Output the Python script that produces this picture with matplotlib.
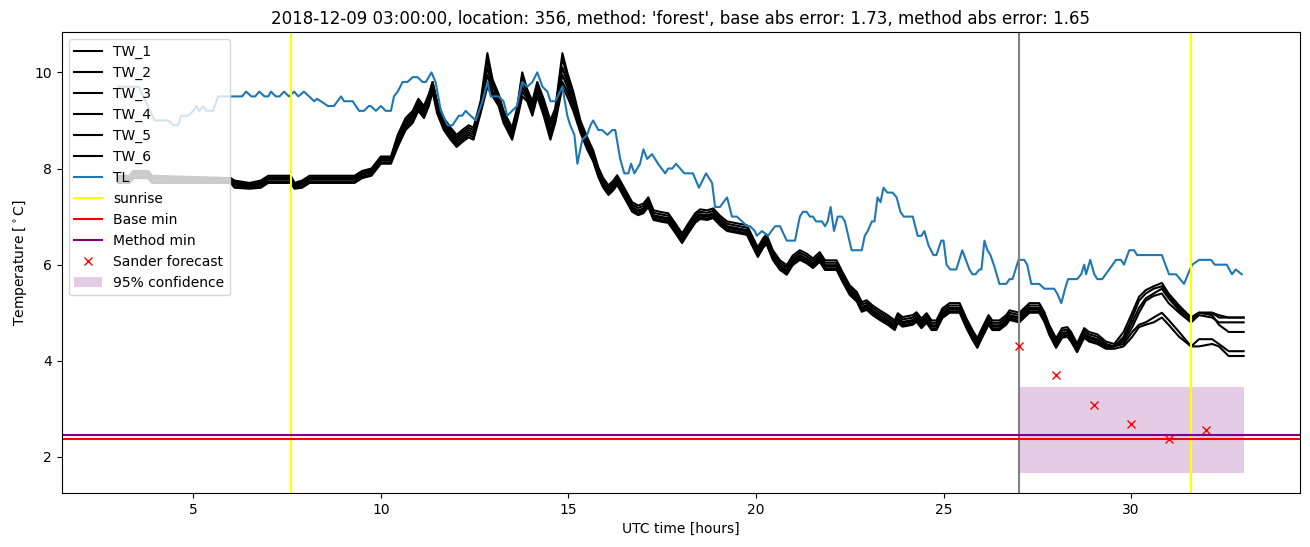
import matplotlib
matplotlib.use("Agg")
import matplotlib.pyplot as plt

# ---------------- data ----------------
tw_t = [3.0, 3.3, 3.4, 3.8, 3.9, 6.0, 6.1, 6.5, 6.8, 7.0,
        7.6, 7.7, 7.9, 8.1, 9.3, 9.5, 9.75, 9.9, 10.0, 10.27,
        10.45, 10.66, 10.85, 11.0, 11.15, 11.28, 11.38, 11.5, 11.68, 11.86,
        12.02, 12.17, 12.34, 12.47, 12.66, 12.84, 12.98, 13.14, 13.27, 13.5,
        13.63, 13.77, 13.9, 14.04, 14.17, 14.34, 14.52, 14.65, 14.84, 14.97,
        15.13, 15.32, 15.5, 15.66, 15.8, 15.93, 16.07, 16.2, 16.3, 16.38,
        16.57, 16.7, 16.86, 17.0, 17.13, 17.27, 17.5, 17.66, 17.85, 18.03,
        18.2, 18.38, 18.51, 18.7, 18.86, 19.04, 19.23, 19.49, 19.76, 19.89,
        20.05, 20.19, 20.28, 20.45, 20.64, 20.82, 20.98, 21.17, 21.35, 21.52,
        21.7, 21.84, 22.15, 22.31, 22.5, 22.69, 22.82, 22.95, 23.11, 23.3,
        23.51, 23.7, 23.78, 23.91, 24.18, 24.28, 24.41, 24.55, 24.68, 24.81,
        24.97, 25.16, 25.43, 25.61, 25.77, 25.9, 26.04, 26.2, 26.3, 26.49,
        26.67, 26.76, 27.02, 27.29, 27.55, 27.69, 27.82, 28.0, 28.16, 28.3,
        28.4, 28.56, 28.75, 28.88, 29.1, 29.33, 29.55, 29.8, 30.03, 30.21,
        30.39, 30.6, 30.82, 31.0, 31.28, 31.6, 31.81, 32.16, 32.34, 32.6,
        33.0]

tw_1 = [7.85, 7.85, 7.95, 7.95, 7.85, 7.8, 7.75, 7.7, 7.75, 7.85,
        7.85, 7.7, 7.75, 7.85, 7.85, 7.95, 8.0, 8.15, 8.25, 8.25,
        8.7, 9.05, 9.2, 9.45, 9.3, 9.55, 9.8, 9.4, 9.05, 8.85,
        8.7, 8.8, 8.9, 8.85, 9.4, 10.4, 9.85, 9.55, 9.2, 8.85,
        9.25, 10.0, 9.65, 9.4, 9.8, 9.45, 9.0, 9.25, 10.4, 10.0,
        9.6, 9.0, 8.65, 8.38, 8.02, 7.8, 7.65, 7.75, 7.86, 7.75,
        7.48, 7.3, 7.23, 7.27, 7.4, 7.13, 7.09, 7.07, 6.86, 6.65,
        6.86, 7.07, 7.15, 7.13, 7.17, 7.02, 6.9, 6.86, 6.82, 6.61,
        6.36, 6.55, 6.63, 6.3, 6.09, 5.99, 6.19, 6.3, 6.23, 6.13,
        6.26, 6.09, 6.09, 5.84, 5.57, 5.43, 5.22, 5.26, 5.15, 5.05,
        4.95, 4.84, 4.99, 4.91, 4.95, 5.01, 4.88, 4.99, 4.84, 4.84,
        5.09, 5.2, 5.2, 4.88, 4.64, 4.47, 4.7, 4.95, 4.84, 4.84,
        4.95, 5.05, 5.0, 5.2, 5.2, 5.01, 4.74, 4.47, 4.68, 4.7,
        4.6, 4.36, 4.68, 4.6, 4.55, 4.4, 4.35, 4.6, 5.0, 5.33,
        5.47, 5.55, 5.62, 5.4, 5.15, 4.9, 5.0, 5.0, 4.9, 4.9,
        4.9]

tw_2 = [7.82, 7.82, 7.92, 7.92, 7.82, 7.8, 7.72, 7.68, 7.72, 7.82,
        7.82, 7.68, 7.72, 7.82, 7.82, 7.92, 7.98, 8.12, 8.22, 8.22,
        8.65, 9.0, 9.15, 9.4, 9.25, 9.5, 9.8, 9.35, 9.0, 8.8,
        8.65, 8.75, 8.85, 8.8, 9.35, 10.25, 9.8, 9.5, 9.15, 8.8,
        9.2, 9.95, 9.6, 9.35, 9.75, 9.4, 8.95, 9.2, 10.3, 9.9,
        9.5, 8.95, 8.6, 8.33, 7.97, 7.75, 7.6, 7.7, 7.81, 7.7,
        7.43, 7.25, 7.18, 7.22, 7.35, 7.08, 7.04, 7.02, 6.81, 6.6,
        6.81, 7.02, 7.1, 7.08, 7.12, 6.97, 6.85, 6.81, 6.77, 6.56,
        6.31, 6.5, 6.58, 6.25, 6.04, 5.94, 6.14, 6.25, 6.18, 6.08,
        6.21, 6.04, 6.04, 5.79, 5.52, 5.38, 5.17, 5.21, 5.1, 5.0,
        4.9, 4.79, 4.94, 4.86, 4.9, 4.96, 4.83, 4.94, 4.79, 4.79,
        5.04, 5.15, 5.15, 4.83, 4.59, 4.42, 4.65, 4.9, 4.79, 4.79,
        4.9, 5.0, 4.95, 5.15, 5.15, 4.96, 4.69, 4.42, 4.63, 4.65,
        4.55, 4.31, 4.63, 4.55, 4.5, 4.35, 4.3, 4.5, 4.9, 5.25,
        5.4, 5.5, 5.55, 5.35, 5.1, 4.9, 5.0, 5.0, 4.95, 4.9,
        4.9]

tw_3 = [7.8, 7.8, 7.9, 7.9, 7.8, 7.78, 7.7, 7.65, 7.7, 7.8,
        7.8, 7.65, 7.7, 7.8, 7.8, 7.9, 7.95, 8.1, 8.2, 8.2,
        8.6, 8.95, 9.1, 9.35, 9.2, 9.45, 9.75, 9.3, 8.95, 8.75,
        8.6, 8.7, 8.8, 8.75, 9.3, 10.1, 9.7, 9.45, 9.1, 8.75,
        9.15, 9.85, 9.55, 9.3, 9.7, 9.3, 8.9, 9.15, 10.1, 9.8,
        9.45, 8.9, 8.55, 8.28, 7.92, 7.7, 7.55, 7.65, 7.76, 7.65,
        7.38, 7.2, 7.13, 7.17, 7.3, 7.03, 6.99, 6.97, 6.76, 6.55,
        6.76, 6.97, 7.05, 7.03, 7.07, 6.92, 6.8, 6.76, 6.72, 6.51,
        6.26, 6.45, 6.53, 6.2, 5.99, 5.89, 6.09, 6.2, 6.13, 6.03,
        6.16, 5.99, 5.99, 5.74, 5.47, 5.33, 5.12, 5.16, 5.05, 4.95,
        4.85, 4.74, 4.89, 4.81, 4.85, 4.91, 4.78, 4.89, 4.74, 4.74,
        4.99, 5.1, 5.1, 4.78, 4.54, 4.37, 4.6, 4.85, 4.74, 4.74,
        4.85, 4.95, 4.9, 5.1, 5.1, 4.91, 4.64, 4.37, 4.58, 4.6,
        4.5, 4.26, 4.58, 4.5, 4.45, 4.3, 4.3, 4.45, 4.8, 5.1,
        5.3, 5.4, 5.5, 5.3, 5.05, 4.85, 5.0, 4.95, 4.75, 4.6,
        4.6]

tw_4 = [7.77, 7.77, 7.87, 7.87, 7.77, 7.75, 7.67, 7.62, 7.67, 7.77,
        7.77, 7.62, 7.67, 7.77, 7.77, 7.87, 7.92, 8.07, 8.17, 8.17,
        8.55, 8.9, 9.05, 9.3, 9.15, 9.4, 9.7, 9.25, 8.9, 8.7,
        8.55, 8.65, 8.75, 8.7, 9.25, 9.95, 9.6, 9.4, 9.05, 8.7,
        9.1, 9.7, 9.5, 9.2, 9.6, 9.25, 8.8, 9.05, 9.95, 9.7,
        9.35, 8.85, 8.5, 8.25, 7.89, 7.67, 7.52, 7.62, 7.73, 7.62,
        7.35, 7.17, 7.1, 7.14, 7.27, 7.0, 6.96, 6.94, 6.73, 6.52,
        6.73, 6.94, 7.02, 7.0, 7.04, 6.89, 6.77, 6.73, 6.69, 6.48,
        6.23, 6.42, 6.5, 6.17, 5.96, 5.86, 6.06, 6.17, 6.1, 6.0,
        6.13, 5.96, 5.96, 5.71, 5.44, 5.3, 5.09, 5.13, 5.02, 4.92,
        4.82, 4.71, 4.86, 4.78, 4.82, 4.88, 4.75, 4.86, 4.71, 4.71,
        4.96, 5.07, 5.07, 4.75, 4.51, 4.34, 4.57, 4.82, 4.71, 4.71,
        4.82, 4.92, 4.87, 5.07, 5.07, 4.88, 4.61, 4.34, 4.55, 4.57,
        4.47, 4.23, 4.55, 4.47, 4.42, 4.3, 4.3, 4.4, 4.7, 5.0,
        5.25, 5.35, 5.4, 5.2, 5.0, 4.8, 4.95, 4.9, 4.8, 4.8,
        4.8]

tw_5 = [7.73, 7.73, 7.83, 7.83, 7.73, 7.72, 7.63, 7.6, 7.63, 7.73,
        7.73, 7.6, 7.63, 7.73, 7.73, 7.83, 7.88, 8.03, 8.13, 8.13,
        8.5, 8.85, 9.0, 9.25, 9.1, 9.35, 9.65, 9.2, 8.85, 8.65,
        8.5, 8.6, 8.7, 8.65, 9.2, 9.8, 9.55, 9.35, 9.0, 8.65,
        9.05, 9.6, 9.45, 9.15, 9.55, 9.2, 8.7, 9.0, 9.8, 9.6,
        9.3, 8.8, 8.45, 8.2, 7.85, 7.63, 7.48, 7.58, 7.69, 7.58,
        7.31, 7.13, 7.06, 7.1, 7.23, 6.96, 6.92, 6.9, 6.69, 6.48,
        6.69, 6.9, 6.98, 6.96, 7.0, 6.85, 6.73, 6.69, 6.65, 6.44,
        6.19, 6.38, 6.46, 6.13, 5.92, 5.82, 6.02, 6.13, 6.06, 5.96,
        6.09, 5.92, 5.92, 5.67, 5.4, 5.26, 5.05, 5.09, 4.98, 4.88,
        4.78, 4.67, 4.82, 4.74, 4.78, 4.84, 4.71, 4.82, 4.67, 4.67,
        4.92, 5.03, 5.03, 4.71, 4.47, 4.3, 4.53, 4.78, 4.67, 4.67,
        4.78, 4.88, 4.83, 5.03, 5.03, 4.84, 4.57, 4.3, 4.51, 4.53,
        4.43, 4.2, 4.51, 4.43, 4.38, 4.28, 4.3, 4.35, 4.6, 4.75,
        4.8, 4.9, 5.0, 4.85, 4.6, 4.3, 4.45, 4.45, 4.35, 4.2,
        4.2]

tw_6 = [7.7, 7.7, 7.8, 7.8, 7.7, 7.7, 7.6, 7.58, 7.6, 7.7,
        7.7, 7.58, 7.6, 7.7, 7.7, 7.8, 7.85, 8.0, 8.1, 8.1,
        8.45, 8.8, 8.95, 9.2, 9.05, 9.3, 9.6, 9.15, 8.8, 8.6,
        8.45, 8.55, 8.65, 8.6, 9.15, 9.7, 9.5, 9.3, 8.95, 8.6,
        9.0, 9.5, 9.4, 9.1, 9.5, 9.1, 8.6, 8.95, 9.7, 9.5,
        9.2, 8.75, 8.4, 8.15, 7.82, 7.6, 7.45, 7.55, 7.66, 7.55,
        7.28, 7.1, 7.03, 7.07, 7.2, 6.93, 6.89, 6.87, 6.66, 6.45,
        6.66, 6.87, 6.95, 6.93, 6.97, 6.82, 6.7, 6.66, 6.62, 6.41,
        6.16, 6.35, 6.43, 6.1, 5.89, 5.79, 5.99, 6.1, 6.03, 5.93,
        6.06, 5.89, 5.89, 5.64, 5.37, 5.23, 5.02, 5.06, 4.95, 4.85,
        4.75, 4.64, 4.79, 4.71, 4.75, 4.81, 4.68, 4.79, 4.64, 4.64,
        4.89, 5.0, 5.0, 4.68, 4.44, 4.27, 4.5, 4.75, 4.64, 4.64,
        4.75, 4.85, 4.8, 5.0, 5.0, 4.81, 4.54, 4.27, 4.48, 4.5,
        4.4, 4.18, 4.48, 4.4, 4.35, 4.25, 4.25, 4.3, 4.5, 4.7,
        4.75, 4.8, 4.9, 4.75, 4.5, 4.3, 4.3, 4.35, 4.3, 4.1,
        4.1]

tl_t = [3.0, 3.55, 3.97, 4.33, 4.47, 4.6, 4.68, 4.87, 5.0, 5.08,
        5.16, 5.27, 5.35, 5.53, 5.66, 6.3, 6.41, 6.55, 6.65, 6.76,
        6.9, 7.0, 7.07, 7.2, 7.3, 7.42, 7.55, 7.69, 7.8, 7.95,
        8.09, 8.22, 8.3, 8.4, 8.59, 8.75, 8.94, 9.02, 9.25, 9.42,
        9.55, 9.68, 9.73, 9.87, 10.0, 10.13, 10.27, 10.35, 10.45, 10.58,
        10.71, 10.85, 10.98, 11.11, 11.2, 11.35, 11.46, 11.6, 11.78, 11.91,
        12.08, 12.17, 12.26, 12.39, 12.53, 12.71, 12.84, 12.93, 13.14, 13.27,
        13.37, 13.5, 13.63, 13.77, 13.9, 14.04, 14.17, 14.31, 14.44, 14.52,
        14.65, 14.84, 14.97, 15.05, 15.16, 15.24, 15.37, 15.5, 15.59, 15.66,
        15.8, 15.9, 16.04, 16.17, 16.25, 16.38, 16.49, 16.6, 16.67, 16.76,
        16.91, 17.0, 17.1, 17.23, 17.39, 17.58, 17.66, 17.77, 17.87, 17.98,
        18.09, 18.32, 18.48, 18.67, 18.83, 18.91, 19.04, 19.23, 19.36, 19.49,
        19.63, 19.76, 19.84, 19.97, 20.02, 20.16, 20.32, 20.51, 20.64, 20.82,
        21.04, 21.17, 21.25, 21.35, 21.44, 21.52, 21.6, 21.76, 21.84, 21.91,
        21.99, 22.08, 22.18, 22.29, 22.37, 22.55, 22.82, 22.9, 22.98, 23.09,
        23.16, 23.24, 23.32, 23.4, 23.5, 23.64, 23.75, 23.85, 23.94, 24.18,
        24.31, 24.41, 24.49, 24.6, 24.73, 24.81, 24.94, 25.0, 25.08, 25.18,
        25.34, 25.5, 25.69, 25.77, 25.85, 25.96, 26.01, 26.09, 26.17, 26.25,
        26.36, 26.49, 26.67, 26.76, 26.84, 27.0, 27.15, 27.23, 27.34, 27.55,
        27.69, 27.95, 28.03, 28.14, 28.24, 28.32, 28.56, 28.67, 28.75, 28.8,
        28.91, 29.02, 29.1, 29.23, 29.6, 29.73, 29.81, 29.95, 30.08, 30.16,
        30.27, 30.82, 31.01, 31.2, 31.41, 31.57, 31.63, 31.81, 32.13, 32.23,
        32.55, 32.69, 32.79, 32.95]

tl_v = [9.7, 9.7, 9.0, 9.0, 8.9, 8.9, 9.1, 9.1, 9.2, 9.3,
        9.2, 9.3, 9.2, 9.2, 9.5, 9.5, 9.6, 9.5, 9.5, 9.6,
        9.5, 9.5, 9.6, 9.5, 9.5, 9.6, 9.5, 9.6, 9.5, 9.6,
        9.5, 9.4, 9.45, 9.4, 9.3, 9.3, 9.5, 9.4, 9.4, 9.2,
        9.2, 9.3, 9.3, 9.2, 9.3, 9.2, 9.2, 9.5, 9.6, 9.8,
        9.8, 9.9, 9.9, 9.8, 9.8, 10.0, 9.8, 9.2, 8.9, 8.9,
        9.1, 9.1, 9.2, 9.1, 9.0, 9.4, 9.8, 9.5, 9.5, 9.4,
        9.1, 9.2, 9.3, 9.8, 9.7, 9.8, 10.0, 9.7, 9.6, 9.4,
        9.4, 9.7, 9.1, 8.9, 8.7, 8.1, 8.6, 8.7, 8.9, 9.0,
        8.8, 8.8, 8.7, 8.8, 8.8, 8.2, 7.9, 7.9, 8.1, 7.9,
        8.1, 8.4, 8.2, 8.3, 8.1, 7.9, 8.0, 8.0, 8.1, 8.0,
        7.9, 7.9, 7.6, 7.9, 7.7, 7.2, 7.2, 7.4, 7.0, 7.0,
        6.9, 6.8, 6.8, 6.7, 6.6, 6.7, 6.6, 6.8, 6.8, 6.5,
        6.5, 7.0, 7.1, 7.1, 7.0, 7.0, 6.9, 6.9, 6.8, 6.9,
        7.2, 6.7, 7.0, 7.0, 6.9, 6.3, 6.3, 6.6, 6.7, 6.9,
        6.9, 7.4, 7.3, 7.6, 7.5, 7.5, 7.4, 7.1, 7.0, 7.0,
        6.6, 6.6, 6.7, 6.4, 6.2, 6.2, 6.5, 6.5, 6.0, 5.9,
        5.9, 6.3, 5.9, 5.8, 5.8, 5.9, 5.9, 6.5, 6.3, 6.2,
        5.95, 5.6, 5.6, 5.7, 5.7, 6.1, 6.1, 6.0, 5.6, 5.6,
        5.5, 5.5, 5.4, 5.2, 5.5, 5.7, 5.7, 5.8, 6.0, 5.8,
        6.1, 5.8, 5.7, 5.7, 6.1, 6.1, 6.0, 6.3, 6.3, 6.2,
        6.2, 6.2, 5.8, 5.8, 5.6, 5.9, 6.0, 6.1, 6.1, 6.0,
        6.0, 5.8, 5.9, 5.8]

sunrise_times = [7.61, 31.6]
forecast_time = 27.0
base_min = 2.38
method_min = 2.46
sander_t = [27, 28, 29, 30, 31, 32]
sander_v = [4.3, 3.7, 3.08, 2.69, 2.37, 2.56]
conf_t = [27.0, 33.0]
conf_low = [1.67, 1.67]
conf_high = [3.45, 3.45]

tw_series = {"TW_1": tw_1, "TW_2": tw_2, "TW_3": tw_3,
             "TW_4": tw_4, "TW_5": tw_5, "TW_6": tw_6}

title = ("2018-12-09 03:00:00, location: 356, method: 'forest', "
         "base abs error: 1.73, method abs error: 1.65")

# ---------------- plot ----------------
fig = plt.figure(figsize=(13.1, 5.47), dpi=100)
ax = fig.add_axes([0.0473, 0.0987, 0.9450, 0.8428])

for name, vals in tw_series.items():
    assert len(vals) == len(tw_t), name
    ax.plot(tw_t, vals, color="black", label=name)
ax.plot(tl_t, tl_v, color="#1f77b4", label="TL")

ax.axvline(sunrise_times[0], color="yellow", label="sunrise")
for s in sunrise_times[1:]:
    ax.axvline(s, color="yellow")
ax.axvline(forecast_time, color="gray")
ax.axhline(base_min, color="red", label="Base min")
ax.axhline(method_min, color="purple", label="Method min")
ax.plot(sander_t, sander_v, "x", color="red", label="Sander forecast")
ax.fill_between(conf_t, conf_low, conf_high, color="purple", alpha=0.2,
                linewidth=0, label="95% confidence")

ax.set_xlim(1.5, 34.5)
ax.set_ylim(1.25, 10.84)
ax.set_xticks([5, 10, 15, 20, 25, 30])
ax.set_yticks([2, 4, 6, 8, 10])
ax.set_xlabel("UTC time [hours]")
ax.set_ylabel(r"Temperature [$^\circ$C]")
ax.set_title(title)
ax.legend(loc="upper left")

fig.savefig("out.png", dpi=100)
